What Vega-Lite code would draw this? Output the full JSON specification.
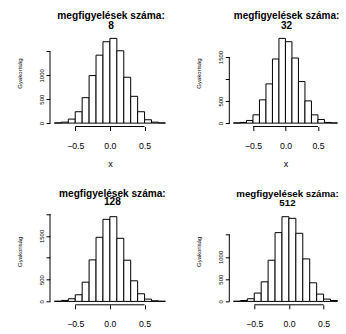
{
  "$schema": "https://vega.github.io/schema/vega-lite/v6.json",
  "autosize": {"type": "pad"},
  "padding": {"left": 16, "top": 10, "right": 0, "bottom": 0},
  "background": "white",
  "config": {
    "view": {"stroke": null},
    "font": "Liberation Sans",
    "axis": {"grid": false, "domain": false, "tickColor": "#000", "tickSize": 4, "tickWidth": 1, "labelColor": "#000", "titleColor": "#000", "labelFont": "Liberation Sans", "titleFont": "Liberation Sans", "titleFontWeight": "normal", "labelOverlap": false},
    "axisX": {"labelFontSize": 8.7, "labelPadding": 11, "titleFontSize": 9, "titlePadding": 9},
    "axisY": {"labelFontSize": 6, "labelAngle": -90, "labelPadding": 2, "titleFontSize": 6, "titleX": -31, "titleY": 38, "titleBaseline": "middle"},
    "title": {"font": "Liberation Sans", "fontWeight": "bold", "color": "#000", "anchor": "middle", "frame": "group"}
  },
  "datasets": {
    "n8": [
      {"lo": -0.8, "hi": -0.7, "n": 5}, {"lo": -0.7, "hi": -0.6, "n": 20}, {"lo": -0.6, "hi": -0.5, "n": 84}, {"lo": -0.5, "hi": -0.4, "n": 238},
      {"lo": -0.4, "hi": -0.3, "n": 532}, {"lo": -0.3, "hi": -0.2, "n": 994}, {"lo": -0.2, "hi": -0.1, "n": 1421}, {"lo": -0.1, "hi": 0.0, "n": 1702},
      {"lo": 0.0, "hi": 0.1, "n": 1772}, {"lo": 0.1, "hi": 0.2, "n": 1513}, {"lo": 0.2, "hi": 0.3, "n": 959}, {"lo": 0.3, "hi": 0.4, "n": 560},
      {"lo": 0.4, "hi": 0.5, "n": 238}, {"lo": 0.5, "hi": 0.6, "n": 70}, {"lo": 0.6, "hi": 0.7, "n": 20}, {"lo": 0.7, "hi": 0.8, "n": 5}
    ],
    "n32": [
      {"lo": -0.8, "hi": -0.7, "n": 5}, {"lo": -0.7, "hi": -0.6, "n": 15}, {"lo": -0.6, "hi": -0.5, "n": 60}, {"lo": -0.5, "hi": -0.4, "n": 188},
      {"lo": -0.4, "hi": -0.3, "n": 528}, {"lo": -0.3, "hi": -0.2, "n": 890}, {"lo": -0.2, "hi": -0.1, "n": 1455}, {"lo": -0.1, "hi": 0.0, "n": 1923},
      {"lo": 0.0, "hi": 0.1, "n": 1848}, {"lo": 0.1, "hi": 0.2, "n": 1478}, {"lo": 0.2, "hi": 0.3, "n": 943}, {"lo": 0.3, "hi": 0.4, "n": 505},
      {"lo": 0.4, "hi": 0.5, "n": 188}, {"lo": 0.5, "hi": 0.6, "n": 83}, {"lo": 0.6, "hi": 0.7, "n": 15}, {"lo": 0.7, "hi": 0.8, "n": 5}
    ],
    "n128": [
      {"lo": -0.8, "hi": -0.7, "n": 5}, {"lo": -0.7, "hi": -0.6, "n": 23}, {"lo": -0.6, "hi": -0.5, "n": 61}, {"lo": -0.5, "hi": -0.4, "n": 152},
      {"lo": -0.4, "hi": -0.3, "n": 441}, {"lo": -0.3, "hi": -0.2, "n": 951}, {"lo": -0.2, "hi": -0.1, "n": 1469}, {"lo": -0.1, "hi": 0.0, "n": 1880},
      {"lo": 0.0, "hi": 0.1, "n": 1941}, {"lo": 0.1, "hi": 0.2, "n": 1446}, {"lo": 0.2, "hi": 0.3, "n": 944}, {"lo": 0.3, "hi": 0.4, "n": 472},
      {"lo": 0.4, "hi": 0.5, "n": 175}, {"lo": 0.5, "hi": 0.6, "n": 53}, {"lo": 0.6, "hi": 0.7, "n": 15}, {"lo": 0.7, "hi": 0.8, "n": 5}
    ],
    "n512": [
      {"lo": -0.8, "hi": -0.7, "n": 5}, {"lo": -0.7, "hi": -0.6, "n": 20}, {"lo": -0.6, "hi": -0.5, "n": 60}, {"lo": -0.5, "hi": -0.4, "n": 187},
      {"lo": -0.4, "hi": -0.3, "n": 440}, {"lo": -0.3, "hi": -0.2, "n": 925}, {"lo": -0.2, "hi": -0.1, "n": 1545}, {"lo": -0.1, "hi": 0.0, "n": 1903},
      {"lo": 0.0, "hi": 0.1, "n": 1866}, {"lo": 0.1, "hi": 0.2, "n": 1530}, {"lo": 0.2, "hi": 0.3, "n": 955}, {"lo": 0.3, "hi": 0.4, "n": 418},
      {"lo": 0.4, "hi": 0.5, "n": 164}, {"lo": 0.5, "hi": 0.6, "n": 52}, {"lo": 0.6, "hi": 0.7, "n": 20}
    ]
  },
  "columns": 2,
  "bounds": "flush",
  "spacing": {"row": 86.3, "column": 59.3},
  "concat": [
    {
      "width": 119.8, "height": 91.5,
      "title": {"text": ["megfigyelések száma:", "8"], "fontSize": 10.2, "lineHeight": 10, "offset": 4, "dx": 1.2},
      "layer": [
        {
          "data": {"name": "n8"},
          "mark": {"type": "bar", "fill": "white", "stroke": "#000", "strokeWidth": 1},
          "encoding": {
            "x": {"field": "lo", "type": "quantitative", "scale": {"domain": [-0.864, 0.864], "nice": false, "zero": false}, "axis": {"title": "x", "values": [-0.5, 0, 0.5], "format": ".1f"}},
            "x2": {"field": "hi"},
            "y": {"field": "n", "type": "quantitative", "scale": {"domain": [-70.9, 1842.9], "nice": false, "zero": false}, "axis": {"title": "Gyakoriság", "values": [0, 500, 1000, 1500], "format": "d", "labelExpr": "datum.value == 1500 ? '' : datum.label"}},
            "y2": {"datum": 0}
          }
        },
        {
          "data": {"values": [{}]},
          "mark": {"type": "rule", "stroke": "#000", "strokeWidth": 1},
          "encoding": {
            "x": {"datum": -0.5, "type": "quantitative", "axis": {"title": "x", "values": [-0.5, 0, 0.5], "format": ".1f"}},
            "x2": {"datum": 0.5},
            "y": {"datum": -70.9, "type": "quantitative", "axis": {"title": "Gyakoriság", "values": [0, 500, 1000, 1500], "format": "d", "labelExpr": "datum.value == 1500 ? '' : datum.label"}}
          }
        },
        {
          "data": {"values": [{}]},
          "mark": {"type": "rule", "stroke": "#000", "strokeWidth": 1},
          "encoding": {
            "x": {"datum": -0.864, "type": "quantitative", "axis": {"title": "x", "values": [-0.5, 0, 0.5], "format": ".1f"}},
            "y": {"datum": 0, "type": "quantitative", "axis": {"title": "Gyakoriság", "values": [0, 500, 1000, 1500], "format": "d", "labelExpr": "datum.value == 1500 ? '' : datum.label"}},
            "y2": {"datum": 1500}
          }
        }
      ]
    },
    {
      "width": 112.3, "height": 91.5,
      "title": {"text": ["megfigyelések száma:", "32"], "fontSize": 10, "lineHeight": 10, "offset": 4.5, "dx": 1.1},
      "layer": [
        {
          "data": {"name": "n32"},
          "mark": {"type": "bar", "fill": "white", "stroke": "#000", "strokeWidth": 1},
          "encoding": {
            "x": {"field": "lo", "type": "quantitative", "scale": {"domain": [-0.864, 0.864], "nice": false, "zero": false}, "axis": {"title": "x", "values": [-0.5, 0, 0.5], "format": ".1f"}},
            "x2": {"field": "hi"},
            "y": {"field": "n", "type": "quantitative", "scale": {"domain": [-76.9, 1999.9], "nice": false, "zero": false}, "axis": {"title": "Gyakoriság", "values": [0, 500, 1000, 1500], "format": "d", "labelExpr": "datum.value == 1000 ? '' : datum.label"}},
            "y2": {"datum": 0}
          }
        },
        {
          "data": {"values": [{}]},
          "mark": {"type": "rule", "stroke": "#000", "strokeWidth": 1},
          "encoding": {
            "x": {"datum": -0.5, "type": "quantitative", "axis": {"title": "x", "values": [-0.5, 0, 0.5], "format": ".1f"}},
            "x2": {"datum": 0.5},
            "y": {"datum": -76.9, "type": "quantitative", "axis": {"title": "Gyakoriság", "values": [0, 500, 1000, 1500], "format": "d", "labelExpr": "datum.value == 1000 ? '' : datum.label"}}
          }
        },
        {
          "data": {"values": [{}]},
          "mark": {"type": "rule", "stroke": "#000", "strokeWidth": 1},
          "encoding": {
            "x": {"datum": -0.864, "type": "quantitative", "axis": {"title": "x", "values": [-0.5, 0, 0.5], "format": ".1f"}},
            "y": {"datum": 0, "type": "quantitative", "axis": {"title": "Gyakoriság", "values": [0, 500, 1000, 1500], "format": "d", "labelExpr": "datum.value == 1000 ? '' : datum.label"}},
            "y2": {"datum": 1500}
          }
        }
      ]
    },
    {
      "width": 119.8, "height": 91.5,
      "title": {"text": ["megfigyelések száma:", "128"], "fontSize": 10.1, "lineHeight": 8.5, "offset": 6, "dx": 2.5},
      "layer": [
        {
          "data": {"name": "n128"},
          "mark": {"type": "bar", "fill": "white", "stroke": "#000", "strokeWidth": 1},
          "encoding": {
            "x": {"field": "lo", "type": "quantitative", "scale": {"domain": [-0.864, 0.864], "nice": false, "zero": false}, "axis": {"title": "x", "values": [-0.5, 0, 0.5], "format": ".1f"}},
            "x2": {"field": "hi"},
            "y": {"field": "n", "type": "quantitative", "scale": {"domain": [-77.6, 2018.6], "nice": false, "zero": false}, "axis": {"title": "Gyakoriság", "values": [0, 500, 1000, 1500, 2000], "format": "d", "labelExpr": "datum.value == 1000 || datum.value == 2000 ? '' : datum.label"}},
            "y2": {"datum": 0}
          }
        },
        {
          "data": {"values": [{}]},
          "mark": {"type": "rule", "stroke": "#000", "strokeWidth": 1},
          "encoding": {
            "x": {"datum": -0.5, "type": "quantitative", "axis": {"title": "x", "values": [-0.5, 0, 0.5], "format": ".1f"}},
            "x2": {"datum": 0.5},
            "y": {"datum": -77.6, "type": "quantitative", "axis": {"title": "Gyakoriság", "values": [0, 500, 1000, 1500, 2000], "format": "d", "labelExpr": "datum.value == 1000 || datum.value == 2000 ? '' : datum.label"}}
          }
        },
        {
          "data": {"values": [{}]},
          "mark": {"type": "rule", "stroke": "#000", "strokeWidth": 1},
          "encoding": {
            "x": {"datum": -0.864, "type": "quantitative", "axis": {"title": "x", "values": [-0.5, 0, 0.5], "format": ".1f"}},
            "y": {"datum": 0, "type": "quantitative", "axis": {"title": "Gyakoriság", "values": [0, 500, 1000, 1500, 2000], "format": "d", "labelExpr": "datum.value == 1000 || datum.value == 2000 ? '' : datum.label"}},
            "y2": {"datum": 2000}
          }
        }
      ]
    },
    {
      "width": 112.3, "height": 91.5,
      "title": {"text": ["megfigyelések száma:", "512"], "fontSize": 9.7, "lineHeight": 8.5, "offset": 6, "dx": 2},
      "layer": [
        {
          "data": {"name": "n512"},
          "mark": {"type": "bar", "fill": "white", "stroke": "#000", "strokeWidth": 1},
          "encoding": {
            "x": {"field": "lo", "type": "quantitative", "scale": {"domain": [-0.86, 0.76], "nice": false, "zero": false}, "axis": {"title": "x", "values": [-0.5, 0, 0.5], "format": ".1f"}},
            "x2": {"field": "hi"},
            "y": {"field": "n", "type": "quantitative", "scale": {"domain": [-76.1, 1979.1], "nice": false, "zero": false}, "axis": {"title": "Gyakoriság", "values": [0, 500, 1000, 1500], "format": "d", "labelExpr": "datum.value == 1500 ? '' : datum.label"}},
            "y2": {"datum": 0}
          }
        },
        {
          "data": {"values": [{}]},
          "mark": {"type": "rule", "stroke": "#000", "strokeWidth": 1},
          "encoding": {
            "x": {"datum": -0.5, "type": "quantitative", "axis": {"title": "x", "values": [-0.5, 0, 0.5], "format": ".1f"}},
            "x2": {"datum": 0.5},
            "y": {"datum": -76.1, "type": "quantitative", "axis": {"title": "Gyakoriság", "values": [0, 500, 1000, 1500], "format": "d", "labelExpr": "datum.value == 1500 ? '' : datum.label"}}
          }
        },
        {
          "data": {"values": [{}]},
          "mark": {"type": "rule", "stroke": "#000", "strokeWidth": 1},
          "encoding": {
            "x": {"datum": -0.86, "type": "quantitative", "axis": {"title": "x", "values": [-0.5, 0, 0.5], "format": ".1f"}},
            "y": {"datum": 0, "type": "quantitative", "axis": {"title": "Gyakoriság", "values": [0, 500, 1000, 1500], "format": "d", "labelExpr": "datum.value == 1500 ? '' : datum.label"}},
            "y2": {"datum": 1500}
          }
        }
      ]
    }
  ]
}
